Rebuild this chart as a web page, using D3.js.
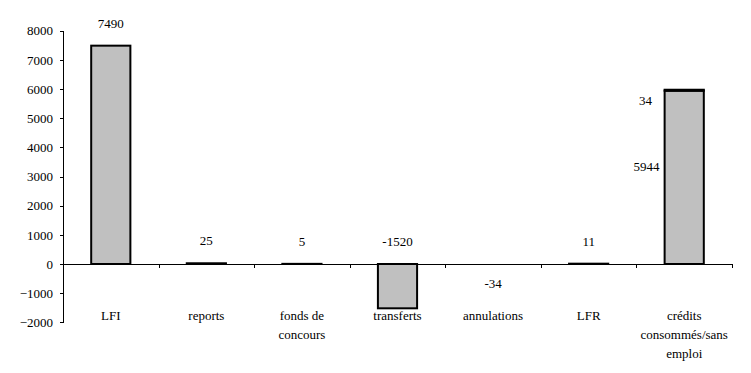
<!DOCTYPE html>
<html>
<head>
<meta charset="utf-8">
<script src="https://cdn.jsdelivr.net/npm/d3@7"></script>
<style>
  body { margin: 0; background: #fff; }
  svg text { font-family: "Times New Roman", "Liberation Serif", serif; font-size: 13px; fill: #000; }
</style>
</head>
<body>
<div id="chart"></div>
<script>
const categories = [
  ["LFI"],
  ["reports"],
  ["fonds de", "concours"],
  ["transferts"],
  ["annulations"],
  ["LFR"],
  ["crédits", "consommés/sans", "emploi"]
];
const values = [7490, 25, 5, -1520, -34, 11, 5944];
const sansEmploi = [0, 0, 0, 0, 0, 0, 34];
const yTicks = [-2000, -1000, 0, 1000, 2000, 3000, 4000, 5000, 6000, 7000, 8000];

const width = 751, height = 373;
const svg = d3.select("#chart").append("svg")
  .attr("width", width)
  .attr("height", height);

const y = d3.scaleLinear().domain([-2000, 8000]).range([322.3, 30.8]);
const x = d3.scaleBand().domain(d3.range(categories.length))
  .range([63, 732]).paddingInner(0.59).paddingOuter(0.295);
const xEdges = d3.scaleLinear().domain([0, categories.length]).range([63, 732]);

// y axis
const yAxis = svg.append("g")
  .attr("transform", "translate(63,0)")
  .call(d3.axisLeft(y).tickValues(yTicks).tickFormat(d3.format("d"))
    .tickSize(3).tickSizeOuter(0).tickPadding(7));
yAxis.attr("font-size", null).attr("font-family", null);
yAxis.selectAll("path, line").attr("stroke", "#000").attr("shape-rendering", "crispEdges");

// zero line with category boundary ticks
const xAxis = svg.append("g")
  .attr("transform", `translate(0,${y(0)})`)
  .call(d3.axisBottom(xEdges).tickValues(d3.range(categories.length + 1))
    .tickSize(4).tickSizeOuter(0).tickFormat(""));
xAxis.selectAll("path, line").attr("stroke", "#000").attr("shape-rendering", "crispEdges");

// bars (annulations shown without a bar, as in the source chart)
svg.selectAll(".bar")
  .data(values)
  .enter()
  .append("rect")
  .attr("class", "bar")
  .attr("x", (d, i) => x(i))
  .attr("width", x.bandwidth())
  .attr("y", d => y(Math.max(d, 0)))
  .attr("height", d => Math.abs(y(d) - y(0)))
  .attr("fill", "#c0c0c0")
  .attr("stroke", "#000")
  .attr("stroke-width", 2)
  .attr("visibility", (d, i) => i === 4 ? "hidden" : null);

// stacked "sans emploi" part
svg.selectAll(".bar2")
  .data(sansEmploi)
  .enter()
  .filter(d => d > 0)
  .append("rect")
  .attr("class", "bar2")
  .attr("x", x(6))
  .attr("width", x.bandwidth())
  .attr("y", d => y(values[6] + d))
  .attr("height", d => y(values[6]) - y(values[6] + d))
  .attr("fill", "#c0c0c0")
  .attr("stroke", "#000")
  .attr("stroke-width", 2);

// value labels
svg.selectAll(".val")
  .data(values.slice(0, 6))
  .enter()
  .append("text")
  .attr("class", "val")
  .attr("text-anchor", "middle")
  .attr("x", (d, i) => x(i) + x.bandwidth() / 2)
  .attr("y", (d, i) => i === 4 ? y(0) + 24 : y(Math.max(d, 0)) - 18)
  .text(d => d);

// labels of the stacked bar, left of it
svg.append("text")
  .attr("text-anchor", "middle")
  .attr("x", x(6) - 18)
  .attr("y", y(values[6] / 2) - 6)
  .text(values[6]);
svg.append("text")
  .attr("text-anchor", "middle")
  .attr("x", x(6) - 19)
  .attr("y", y(values[6] + sansEmploi[6]) + 15)
  .text(sansEmploi[6]);

// category labels
const cat = svg.selectAll(".cat")
  .data(categories)
  .enter()
  .append("text")
  .attr("class", "cat")
  .attr("text-anchor", "middle")
  .attr("transform", (d, i) => `translate(${x(i) + x.bandwidth() / 2},320)`);
cat.selectAll("tspan")
  .data(d => d)
  .enter()
  .append("tspan")
  .attr("x", 0)
  .attr("y", (d, j) => j * 19)
  .text(d => d);
</script>
</body>
</html>
